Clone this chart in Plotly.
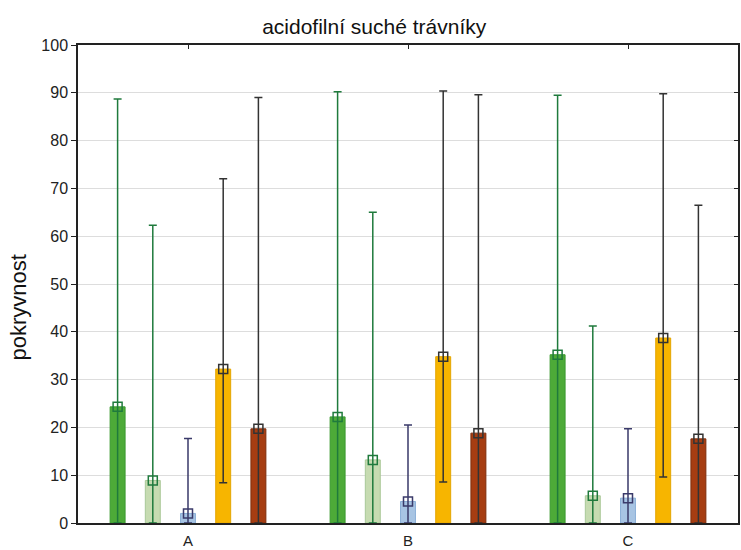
import plotly.graph_objects as go

groups = ["A", "B", "C"]
series = ["s1", "s2", "s3", "s4", "s5"]
means = {
    "s1": [24.3, 22.2, 35.2],
    "s2": [8.9, 13.2, 5.7],
    "s3": [2.0, 4.5, 5.2],
    "s4": [32.2, 34.8, 38.7],
    "s5": [19.7, 18.8, 17.6],
}
upper = {
    "s1": [88.7, 90.2, 89.5],
    "s2": [62.3, 65.0, 41.2],
    "s3": [17.7, 20.5, 19.7],
    "s4": [72.0, 90.4, 89.8],
    "s5": [89.0, 89.6, 66.5],
}
lower = {
    "s1": [0, 0, 0],
    "s2": [0, 0, 0],
    "s3": [0, 0, 0],
    "s4": [8.4, 8.6, 9.6],
    "s5": [0, 0, 0],
}
yticks = [0, 10, 20, 30, 40, 50, 60, 70, 80, 90, 100]
ytitle = "pokryvnost"
title = "acidofilní suché trávníky"

fills = ["#4daa38", "#c6dbb1", "#a7c4e3", "#f7b500", "#a63d12"]
borders = ["#3b9a30", "#a9c898", "#8cb0d8", "#e5a500", "#7e2e0e"]
whisk = ["#1f7a3c", "#1f7a3c", "#3a3a6a", "#333333", "#333333"]
offsets = [-0.32, -0.16, 0.0, 0.16, 0.32]

fig = go.Figure()
for i, s in enumerate(series):
    xs = [g + offsets[i] for g in range(len(groups))]
    m = means[s]
    fig.add_trace(go.Bar(
        x=xs, y=m, width=0.068,
        marker=dict(color=fills[i], line=dict(color=borders[i], width=1)),
        error_y=dict(type="data", symmetric=False,
                     array=[u - v for u, v in zip(upper[s], m)],
                     arrayminus=[v - l for v, l in zip(m, lower[s])],
                     color=whisk[i], thickness=1.5, width=4),
        showlegend=False, hoverinfo="skip",
    ))
for i, s in enumerate(series):
    xs = [g + offsets[i] for g in range(len(groups))]
    fig.add_trace(go.Scatter(
        x=xs, y=means[s], mode="markers",
        marker=dict(symbol="square-open", size=9, color=whisk[i], line=dict(width=1.5, color=whisk[i])),
        showlegend=False, hoverinfo="skip",
    ))
# helper trace for mirrored axes
fig.add_trace(go.Scatter(x=[0], y=[0], xaxis="x2", yaxis="y2", mode="markers",
                         marker=dict(opacity=0), showlegend=False, hoverinfo="skip"))

fig.update_layout(
    width=741, height=550,
    margin=dict(l=78, r=3, t=45, b=27),
    paper_bgcolor="white", plot_bgcolor="white",
    barmode="overlay",
    font=dict(family="Liberation Sans, Arial, sans-serif", color="#222222"),
    title=dict(text=title, x=0.505, xanchor="center", y=0.952, yanchor="middle",
               font=dict(size=21, color="#111111")),
    xaxis=dict(range=[-0.5, 2.5], tickvals=[0, 1, 2], ticktext=groups, showgrid=False,
               showline=True, linecolor="#222222", linewidth=1.5, ticks="", zeroline=False,
               tickfont=dict(size=15), ticklabelstandoff=3, automargin=False),
    yaxis=dict(range=[0, 100], tickvals=yticks, showgrid=True, gridcolor="#dddddd", gridwidth=1,
               showline=True, linecolor="#222222", linewidth=1.5, ticks="outside", ticklen=5,
               tickcolor="#222222", zeroline=False, tickfont=dict(size=16), automargin=False),
    xaxis2=dict(overlaying="x", side="top", range=[-0.5, 2.5], tickvals=[0, 1, 2], showticklabels=False,
                ticks="inside", ticklen=4, tickcolor="#222222", showline=True, linecolor="#222222",
                linewidth=1.5, showgrid=False, zeroline=False),
    yaxis2=dict(overlaying="y", side="right", range=[0, 100], tickvals=yticks, showticklabels=False,
                ticks="inside", ticklen=4, tickcolor="#222222", showline=True, linecolor="#222222",
                linewidth=1.5, showgrid=False, zeroline=False),
    annotations=[dict(text=ytitle, xref="paper", yref="paper", x=-0.09, y=0.45,
                      xanchor="center", yanchor="middle", textangle=-90, showarrow=False,
                      font=dict(size=22, color="#111111"))],
)

fig.write_html("out.html", config={"displayModeBar": False},
               post_script="document.body.style.margin='0';")
